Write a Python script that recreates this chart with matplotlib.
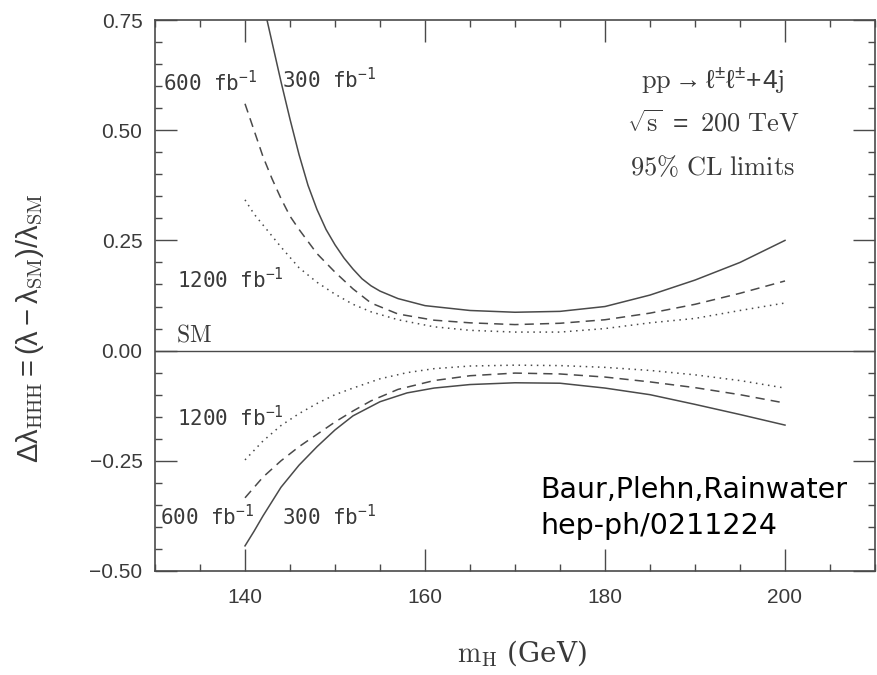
import matplotlib
matplotlib.use("Agg")
import matplotlib.pyplot as plt
from matplotlib.ticker import MultipleLocator, FuncFormatter

# ---- data ----
x_up_300 = [142, 143, 144, 145, 146, 147, 148, 149, 150, 151, 152, 153, 154, 155, 157, 160, 165, 170, 175, 180, 185, 190, 195, 200]
y_up_300 = [0.79, 0.70, 0.61, 0.525, 0.445, 0.375, 0.32, 0.275, 0.24, 0.21, 0.185, 0.163, 0.147, 0.135, 0.118, 0.102, 0.091, 0.087, 0.089, 0.10, 0.126, 0.16, 0.20, 0.25]

x_up_600 = [140, 141, 142, 143, 144, 145, 146, 148, 150, 152, 154, 157, 161, 165, 170, 175, 180, 185, 190, 195, 200]
y_up_600 = [0.56, 0.50, 0.44, 0.39, 0.345, 0.305, 0.275, 0.22, 0.178, 0.14, 0.108, 0.083, 0.069, 0.063, 0.059, 0.062, 0.07, 0.085, 0.105, 0.13, 0.158]

x_up_1200 = [140, 141, 142, 143, 144, 146, 148, 150, 152, 154, 157, 161, 165, 170, 175, 180, 185, 190, 195, 200]
y_up_1200 = [0.342, 0.31, 0.285, 0.26, 0.235, 0.188, 0.155, 0.128, 0.105, 0.088, 0.07, 0.054, 0.046, 0.042, 0.042, 0.05, 0.063, 0.073, 0.091, 0.108]

x_lo_300 = [140, 141, 142, 144, 146, 148, 150, 152, 155, 158, 161, 165, 170, 175, 180, 185, 190, 195, 200]
y_lo_300 = [-0.443, -0.41, -0.375, -0.31, -0.26, -0.218, -0.18, -0.148, -0.116, -0.096, -0.085, -0.077, -0.073, -0.074, -0.085, -0.10, -0.122, -0.145, -0.169]

x_lo_600 = [140, 142, 144, 146, 148, 150, 152, 154, 157, 161, 165, 170, 175, 180, 185, 190, 195, 200]
y_lo_600 = [-0.334, -0.287, -0.25, -0.218, -0.19, -0.162, -0.137, -0.114, -0.088, -0.068, -0.057, -0.051, -0.053, -0.06, -0.071, -0.084, -0.10, -0.119]

x_lo_1200 = [140, 142, 144, 146, 148, 150, 152, 155, 158, 161, 165, 170, 175, 180, 185, 190, 195, 200]
y_lo_1200 = [-0.248, -0.205, -0.17, -0.143, -0.12, -0.10, -0.085, -0.064, -0.05, -0.041, -0.035, -0.033, -0.034, -0.038, -0.045, -0.055, -0.068, -0.085]

x_ticks = [140, 160, 180, 200]
y_ticks = [-0.50, -0.25, 0.00, 0.25, 0.50, 0.75]

# ---- figure ----
plt.rcParams['font.family'] = ['Liberation Sans', 'DejaVu Sans']
plt.rcParams['mathtext.default'] = 'regular'
gray = '#4a4a4a'
tcol = '#3a3a3a'
fig = plt.figure(figsize=(8.77, 6.75), dpi=100)
ax = fig.add_axes([155/877, 104/675, 720/877, 551/675])

lw = 1.1
ax.plot(x_up_300, y_up_300, color=gray, lw=lw, ls='-')
ax.plot(x_lo_300, y_lo_300, color=gray, lw=lw, ls='-')
ax.plot(x_up_600, y_up_600, color=gray, lw=lw, ls=(0, (6, 4)))
ax.plot(x_lo_600, y_lo_600, color=gray, lw=lw, ls=(0, (6, 4)))
ax.plot(x_up_1200, y_up_1200, color=gray, lw=lw, ls=(0, (1, 3)))
ax.plot(x_lo_1200, y_lo_1200, color=gray, lw=lw, ls=(0, (1, 3)))
ax.axhline(0, color=gray, lw=1.0)

ax.set_xlim(130, 210)
ax.set_ylim(-0.5, 0.75)
ax.set_xticks(x_ticks)
ax.set_yticks(y_ticks)
ax.xaxis.set_minor_locator(MultipleLocator(5))
ax.yaxis.set_minor_locator(MultipleLocator(0.05))
ax.yaxis.set_major_formatter(FuncFormatter(lambda v, p: ('%.2f' % v).replace('-', '\u2212')))
ax.tick_params(which='both', direction='in', top=True, right=True, color=gray,
               labelcolor=tcol, labelsize=15)
ax.tick_params(which='major', length=16, width=1.0, pad=9)
ax.tick_params(axis='x', which='major', pad=12)
ax.tick_params(which='minor', length=5, width=1.0)
for s in ax.spines.values():
    s.set_color(gray)
    s.set_linewidth(1.2)

ax.set_xlabel(r'$\mathrm{m_H}$ (GeV)', fontsize=20, family='DejaVu Serif',
              math_fontfamily='cm', color=tcol)
ax.xaxis.set_label_coords(0.51, -0.122)
ax.set_ylabel(r'$\Delta\lambda_{\mathrm{HHH}} = (\lambda - \lambda_{\mathrm{SM}})/\lambda_{\mathrm{SM}}$',
              fontsize=21, math_fontfamily='cm', color=tcol)
ax.yaxis.set_label_coords(-0.152, 0.44)

tk = dict(fontsize=15, color=tcol, family='DejaVu Sans Mono')
ax.text(130.9, 0.607, '600 fb$^{-1}$', va='center', ha='left', **tk)
ax.text(144.1, 0.615, '300 fb$^{-1}$', va='center', ha='left', **tk)
ax.text(132.4, 0.16, '1200 fb$^{-1}$', va='center', ha='left', **tk)
ax.text(132.4, -0.152, '1200 fb$^{-1}$', va='center', ha='left', **tk)
ax.text(130.6, -0.377, '600 fb$^{-1}$', va='center', ha='left', **tk)
ax.text(144.1, -0.377, '300 fb$^{-1}$', va='center', ha='left', **tk)
ax.text(132.3, 0.035, r'$\mathrm{SM}$', va='center', ha='left', fontsize=17,
        math_fontfamily='cm', color=tcol)

ax.text(192.0, 0.614, r'$\mathrm{pp}\rightarrow\ell^{\pm}\ell^{\pm}\!+\!4\mathrm{j}$', ha='center', va='center',
        fontsize=19, math_fontfamily='cm', color=tcol)
ax.text(192.0, 0.516, r'$\sqrt{\mathrm{s}}\ =\ \mathrm{200\ TeV}$', ha='center', va='center',
        fontsize=19, math_fontfamily='cm', color=tcol)
ax.text(192.0, 0.417, r'$\mathrm{95\%\ CL\ limits}$', ha='center', va='center',
        fontsize=19, math_fontfamily='cm', color=tcol)

ax.text(172.8, -0.357, 'Baur,Plehn,Rainwater\nhep-ph/0211224', ha='left', va='center',
        fontsize=20.5, family='DejaVu Sans', color='black', linespacing=1.35)

fig.savefig('out.png', dpi=100)
